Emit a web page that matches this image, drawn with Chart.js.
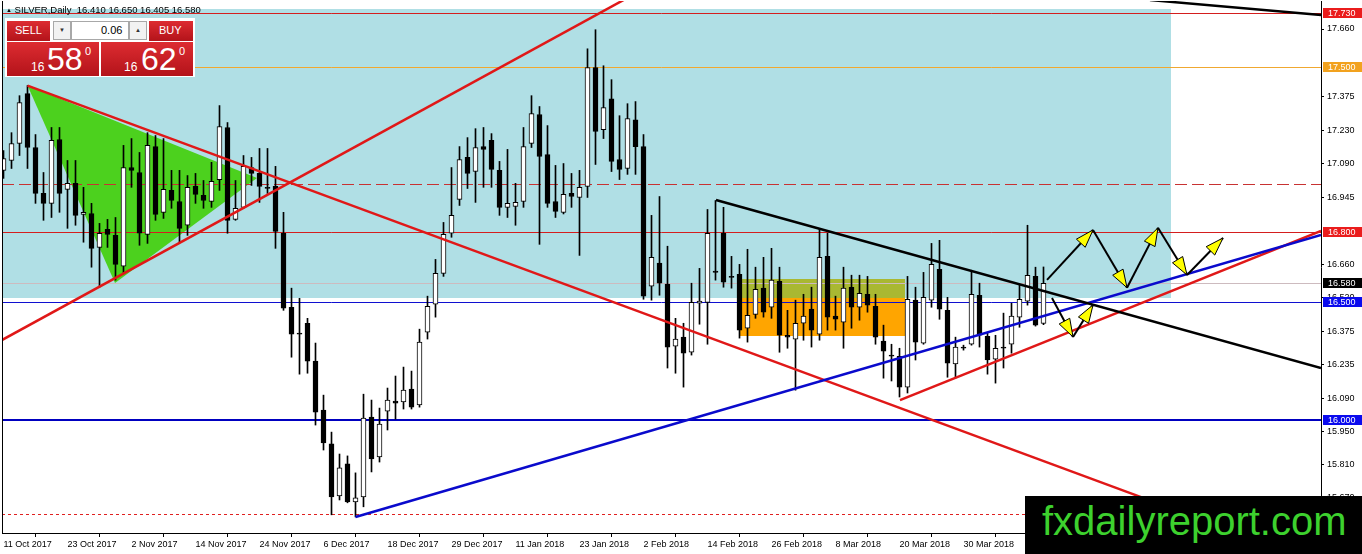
<!DOCTYPE html>
<html>
<head>
<meta charset="utf-8">
<script src="https://cdn.jsdelivr.net/npm/chart.js@4.4.1/dist/chart.umd.min.js"></script>
<style>
html,body{margin:0;padding:0;background:#fff;overflow:hidden;}
#wrap{position:relative;width:1362px;height:554px;overflow:hidden;font-family:'Liberation Sans',Arial,sans-serif;}
#c{position:absolute;left:0;top:0;}
.abs{position:absolute;white-space:nowrap;}
.red{background:linear-gradient(#dd2c31,#b3131a);}
.wt{color:#fff;}
.gbox{background:#f2f2f2;border:1px solid #a8a8a8;box-sizing:border-box;text-align:center;color:#333;font-size:6px;line-height:17px;}
</style>
</head>
<body>
<div id="wrap">
<canvas id="c" width="1362" height="554"></canvas>

<div class="abs" id="title" style="left:6px;top:5px;font-size:9.5px;line-height:9.5px;color:#000;"><span style="font-size:6px;vertical-align:1px;">▲</span> SILVER,Daily&nbsp; 16.410 16.650 16.405 16.580</div>

<div class="abs" style="left:5px;top:18px;width:190px;height:59px;background:#fff;"></div>
<div class="abs red" style="left:7px;top:21px;width:43px;height:20px;"></div>
<div class="abs wt" style="left:15px;top:25px;font-size:11px;line-height:11px;">SELL</div>
<div class="abs gbox" style="left:53px;top:21px;width:18px;height:19px;">▼</div>
<div class="abs" style="left:71px;top:21px;width:58px;height:19px;background:#fff;border:1px solid #a8a8a8;box-sizing:border-box;"></div>
<div class="abs" style="left:101px;top:25px;font-size:11px;line-height:11px;color:#000;">0.06</div>
<div class="abs gbox" style="left:129px;top:21px;width:18px;height:19px;">▲</div>
<div class="abs red" style="left:149px;top:21px;width:44px;height:20px;"></div>
<div class="abs wt" style="left:159px;top:25px;font-size:11px;line-height:11px;">BUY</div>

<div class="abs red" style="left:7px;top:42px;width:92px;height:34px;"></div>
<div class="abs red" style="left:101px;top:42px;width:92px;height:34px;"></div>
<div class="abs wt" style="left:31px;top:61px;font-size:12px;line-height:12px;">16</div>
<div class="abs wt" style="left:47px;top:43px;font-size:32px;line-height:32px;">58</div>
<div class="abs wt" style="left:85px;top:46px;font-size:11px;line-height:11px;">0</div>
<div class="abs wt" style="left:124px;top:61px;font-size:12px;line-height:12px;">16</div>
<div class="abs wt" style="left:141px;top:43px;font-size:32px;line-height:32px;">62</div>
<div class="abs wt" style="left:179px;top:46px;font-size:11px;line-height:11px;">0</div>

<div class="abs" style="left:1025px;top:496px;width:337px;height:58px;background:#000;"></div>
<div class="abs" style="left:1042px;top:501px;font-size:40px;line-height:40px;color:#3dd12e;">fxdailyreport.com</div>
</div>

<script>
// ---------- DATA ----------
const tickLabels = ["11 Oct 2017","23 Oct 2017","2 Nov 2017","14 Nov 2017","24 Nov 2017","6 Dec 2017",
  "18 Dec 2017","29 Dec 2017","11 Jan 2018","23 Jan 2018","2 Feb 2018","14 Feb 2018","26 Feb 2018",
  "8 Mar 2018","20 Mar 2018","30 Mar 2018"];
const barsPerLabel = 8;

const opens = [17.060,17.102,17.174,17.386,17.157,16.962,16.920,17.191,16.979,17.005,
16.873,16.877,16.733,16.810,16.784,16.653,17.072,17.051,16.788,17.161,
16.882,16.975,16.928,16.827,16.992,16.954,16.928,17.021,17.242,16.852,
16.903,17.072,17.047,16.988,16.992,16.793,16.479,16.369,16.411,16.250,
16.043,15.899,15.678,15.814,15.653,15.674,16.013,15.844,16.038,16.081,
16.077,16.132,16.064,16.373,16.492,16.623,16.793,16.937,17.115,17.055,
17.161,17.187,17.060,16.903,16.907,16.928,17.174,17.297,17.127,16.928,
16.882,16.962,16.945,16.992,17.496,17.233,17.364,17.106,17.068,17.275,
17.161,16.568,16.666,16.577,16.314,16.352,16.288,16.496,16.500,16.632,
16.793,16.610,16.619,16.390,16.449,16.560,16.479,16.589,16.360,16.344,
16.411,16.471,16.365,16.695,16.441,16.416,16.564,16.479,16.534,16.483,
16.335,16.276,16.271,16.140,16.509,16.327,16.509,16.640,16.466,16.238,
16.310,16.322,16.530,16.356,16.259,16.310,16.322,16.437,16.505,16.610,
16.410];
const highs = [17.144,17.220,17.377,17.420,17.212,17.051,17.242,17.242,17.102,17.102,
16.988,16.920,16.835,16.852,16.860,17.166,17.195,17.136,17.220,17.208,
17.195,17.060,17.060,17.038,17.047,17.017,17.094,17.335,17.263,17.017,
17.123,17.115,17.153,17.153,17.077,16.882,16.560,16.517,16.432,16.327,
16.106,15.949,15.856,15.848,15.776,16.110,16.085,16.051,16.136,16.187,
16.225,16.208,16.386,16.526,16.682,16.839,17.072,17.161,17.199,17.237,
17.242,17.216,17.098,17.149,17.005,17.242,17.377,17.331,17.250,17.081,
17.089,17.047,17.060,17.576,17.657,17.504,17.445,17.292,17.343,17.352,
17.212,16.869,16.949,16.738,16.432,16.411,16.581,16.644,16.894,16.932,
16.903,16.695,16.661,16.725,16.649,16.691,16.729,16.649,16.466,16.509,
16.534,16.564,16.814,16.793,16.526,16.649,16.615,16.615,16.610,16.534,
16.403,16.322,16.305,16.610,16.564,16.627,16.750,16.763,16.521,16.352,
16.318,16.636,16.581,16.373,16.360,16.454,16.496,16.572,16.827,16.649,
16.650];
const lows = [17.026,17.068,17.123,17.068,16.920,16.848,16.860,16.882,16.814,16.827,
16.755,16.649,16.564,16.733,16.594,16.623,16.988,16.742,16.750,16.848,
16.856,16.899,16.755,16.784,16.920,16.899,16.903,16.975,16.793,16.848,
16.899,16.996,16.924,16.962,16.729,16.466,16.267,16.195,16.199,15.979,
15.873,15.598,15.661,15.649,15.589,15.632,15.780,15.822,15.958,16.004,
16.047,16.047,16.055,16.344,16.437,16.610,16.776,16.911,16.983,16.924,
16.988,16.988,16.869,16.860,16.827,16.903,17.157,16.746,16.903,16.860,
16.875,16.903,16.699,16.945,17.085,17.195,17.055,17.021,17.043,17.043,
16.513,16.509,16.530,16.221,16.199,16.140,16.276,16.407,16.322,16.594,
16.564,16.560,16.348,16.331,16.432,16.437,16.432,16.288,16.305,16.127,
16.339,16.310,16.339,16.382,16.382,16.305,16.390,16.424,16.458,16.322,
16.178,16.166,16.098,16.115,16.255,16.322,16.479,16.428,16.182,16.178,
16.297,16.318,16.310,16.195,16.157,16.221,16.284,16.394,16.488,16.399,
16.405];
const closes = [17.110,17.174,17.348,17.157,16.962,16.920,17.187,16.962,17.005,16.869,
16.882,16.729,16.793,16.788,16.661,17.072,17.060,16.793,17.166,16.873,
16.979,16.932,16.814,16.988,16.958,16.932,17.013,17.246,16.848,16.899,
17.077,17.047,16.992,16.983,16.801,16.475,16.365,16.365,16.250,16.034,
15.903,15.674,15.797,15.653,15.670,16.009,15.835,15.983,16.085,16.072,
16.127,16.055,16.331,16.483,16.623,16.788,16.869,17.106,17.047,17.157,
17.149,17.064,16.903,16.920,16.924,17.161,17.301,17.119,16.920,16.886,
16.958,16.949,16.988,17.496,17.225,17.326,17.098,17.064,17.280,17.161,
16.526,16.691,16.581,16.310,16.344,16.284,16.500,16.505,16.793,16.627,
16.585,16.606,16.382,16.445,16.555,16.458,16.594,16.360,16.352,16.411,
16.441,16.382,16.691,16.437,16.428,16.560,16.479,16.538,16.488,16.352,
16.293,16.271,16.140,16.513,16.331,16.521,16.661,16.471,16.242,16.310,
16.305,16.534,16.360,16.255,16.305,16.305,16.441,16.513,16.615,16.403,
16.580];

const priceTicks = [17.660,17.375,17.230,17.090,16.945,16.660,16.520,16.375,16.235,16.090,15.950,15.810,15.670];

// horizontal levels (price) and their styles kept apart
const levelPrices = [17.730, 17.500, 17.000, 16.800, 16.580, 16.500, 16.000, 15.600];
const levelStyles = [
  {c:'#d41e1e', w:1, d:[]}, {c:'#f0a830', w:1, d:[]}, {c:'#c83232', w:1, d:[12,5]},
  {c:'#d41e1e', w:1, d:[]}, {c:'#cdbbbf', w:1, d:[]}, {c:'#1010d0', w:1, d:[]},
  {c:'#0000c0', w:2, d:[]}, {c:'#e02020', w:1, d:[3,3]}];

// price-axis tags
const tagPrices = [17.730, 17.500, 16.800, 16.580, 16.500, 16.000];
const tagColors = ['#ea1c1c', '#f2a21e', '#ea1c1c', '#000000', '#0a0aee', '#0a0aee'];

// drawn objects in (bar index, price)
const zoneBox   = [[-1, 17.747], [145.9, 16.518]];
const orangeBox = [[91.94, 16.518], [112.69, 16.357]];
const oliveBox  = [[91.94, 16.599], [112.69, 16.518]];
const greenTriangle = [[3, 17.420], [13.94, 16.582], [31.69, 17.028]];
const trendLines = [
  [[-1.69, 16.312], [78.31, 17.798]],
  [[3, 17.420], [149.56, 15.581]],
  [[112.06, 16.085], [164.69, 16.803]],
  [[44, 15.589], [164.69, 16.786]],
  [[89.06, 16.934], [164.69, 16.221]],
  [[143.31, 17.783], [164.69, 17.719]]
];
const trendColors = ['#e01818', '#e01818', '#e01818', '#0a0acc', '#000000', '#000000'];
const arrowPaths = [
  [[130.44, 16.595], [136.19, 16.807], [140.44, 16.562], [144.31, 16.816], [147.94, 16.616], [152.44, 16.773]],
  [[131.06, 16.518], [133.69, 16.353], [136.19, 16.489]]
];

// ---------- CHART ----------
const idx = opens.map((_, i) => i);
const wickData = idx.map(i => ({x: i, y: [lows[i], highs[i]]}));
const bodyData = idx.map(i => ({x: i, y: [opens[i], closes[i]]}));
const bodyColors = idx.map(i => closes[i] > opens[i] ? '#ffffff' : '#000000');

function P(x, y, pt) { return [x.getPixelForValue(pt[0]), y.getPixelForValue(pt[1])]; }
function fillBox(ctx, x, y, box, col) {
  const [x0, y0] = P(x, y, box[0]); const [x1, y1] = P(x, y, box[1]);
  ctx.fillStyle = col;
  ctx.fillRect(Math.round(x0), Math.round(y0), Math.round(x1) - Math.round(x0), Math.round(y1) - Math.round(y0));
}

const annotations = {
  id: 'annotations',
  beforeDatasetsDraw(chart) {
    const {ctx, chartArea: a, scales: {x, y}} = chart;
    ctx.save();
    ctx.beginPath(); ctx.rect(a.left, a.top, a.right - a.left, a.bottom - a.top); ctx.clip();
    fillBox(ctx, x, y, zoneBox, '#b0dfe5');
    fillBox(ctx, x, y, orangeBox, '#ffa500');
    fillBox(ctx, x, y, oliveBox, '#a9b832');
    ctx.beginPath();
    greenTriangle.forEach((pt, k) => { const [X, Y] = P(x, y, pt); k ? ctx.lineTo(X, Y) : ctx.moveTo(X, Y); });
    ctx.closePath(); ctx.fillStyle = '#4cd11e'; ctx.fill();
    levelPrices.forEach((p, k) => {
      const s = levelStyles[k];
      let Y = Math.round(y.getPixelForValue(p)); if (s.w % 2) Y += 0.5;
      ctx.beginPath(); ctx.setLineDash(s.d); ctx.lineWidth = s.w; ctx.strokeStyle = s.c;
      ctx.moveTo(a.left, Y); ctx.lineTo(a.right, Y); ctx.stroke();
    });
    ctx.setLineDash([]);
    ctx.restore();
  },
  afterDatasetsDraw(chart) {
    const {ctx, chartArea: a, scales: {x, y}} = chart;
    ctx.save();
    ctx.beginPath(); ctx.rect(a.left, a.top, a.right - a.left, a.bottom - a.top); ctx.clip();
    ctx.lineWidth = 2.5; ctx.lineCap = 'butt';
    trendLines.forEach((ln, k) => {
      const [x0, y0] = P(x, y, ln[0]); const [x1, y1] = P(x, y, ln[1]);
      ctx.beginPath(); ctx.strokeStyle = trendColors[k]; ctx.moveTo(x0, y0); ctx.lineTo(x1, y1); ctx.stroke();
    });
    arrowPaths.forEach(path => {
      for (let k = 1; k < path.length; k++) {
        const [x0, y0] = P(x, y, path[k - 1]); const [x1, y1] = P(x, y, path[k]);
        ctx.beginPath(); ctx.strokeStyle = '#000'; ctx.lineWidth = 2;
        ctx.moveTo(x0, y0); ctx.lineTo(x1, y1); ctx.stroke();
        const L = Math.hypot(x1 - x0, y1 - y0), ux = (x1 - x0) / L, uy = (y1 - y0) / L;
        const bx = x1 - ux * 18, by = y1 - uy * 18;
        ctx.beginPath();
        ctx.moveTo(x1, y1);
        ctx.lineTo(bx - uy * 6, by + ux * 6);
        ctx.lineTo(bx + uy * 6, by - ux * 6);
        ctx.closePath();
        ctx.fillStyle = '#ffff00'; ctx.fill();
        ctx.lineWidth = 1; ctx.strokeStyle = '#000'; ctx.stroke();
      }
    });
    ctx.restore();
  },
  afterDraw(chart) {
    const {ctx, chartArea: a, scales: {y}} = chart;
    ctx.save();
    ctx.fillStyle = '#000';
    ctx.fillRect(Math.round(a.left), Math.round(a.top), 1, Math.round(a.bottom - a.top));
    ctx.font = '9px "Liberation Sans", Arial, sans-serif';
    ctx.textBaseline = 'middle'; ctx.textAlign = 'left';
    tagPrices.forEach((p, k) => {
      const Y = Math.round(y.getPixelForValue(p));
      ctx.fillStyle = tagColors[k];
      ctx.fillRect(a.right + 2, Y - 5, 1362 - a.right - 2, 10);
      ctx.fillStyle = '#fff';
      ctx.fillText(p.toFixed(3), a.right + 7, Y + 0.5);
    });
    ctx.restore();
  }
};

Chart.defaults.font.family = '"Liberation Sans", Arial, sans-serif';
new Chart(document.getElementById('c'), {
  type: 'bar',
  data: {
    datasets: [
      {data: bodyData, backgroundColor: bodyColors, borderColor: '#000', borderWidth: 1,
       borderSkipped: false, barThickness: 5, grouped: false, order: 0},
      {data: wickData, backgroundColor: '#000', borderWidth: 0, barThickness: 1, grouped: false, order: 1}
    ]
  },
  options: {
    responsive: false, animation: false, devicePixelRatio: 1,
    layout: {padding: {left: 2, top: 1, right: 0, bottom: 0}},
    plugins: {legend: {display: false}, tooltip: {enabled: false}},
    scales: {
      x: {
        type: 'linear', offset: false, min: -0.1875, max: 164.6875,
        afterBuildTicks: s => { s.ticks = tickLabels.map((_, k) => ({value: k * barsPerLabel})); },
        afterFit: s => { s.height = 21; s.paddingLeft = 0; s.paddingRight = 0; },
        ticks: {autoSkip: false, maxRotation: 0, align: 'start', padding: 2, color: '#000',
                font: {size: 9}, callback: v => tickLabels[Math.round(v / barsPerLabel)] || ''},
        grid: {display: true, drawOnChartArea: false, drawTicks: true, tickLength: 4, color: '#000'},
        border: {display: true, color: '#000'}
      },
      y: {
        type: 'linear', position: 'right', min: 15.5208, max: 17.77886,
        afterBuildTicks: s => { s.ticks = priceTicks.map(v => ({value: v})); },
        afterFit: s => { s.width = 41; s.paddingTop = 0; s.paddingBottom = 0; },
        ticks: {padding: 3, color: '#000', font: {size: 9}, callback: v => Number(v).toFixed(3)},
        grid: {display: true, drawOnChartArea: false, drawTicks: true, tickLength: 3, color: '#000'},
        border: {display: true, color: '#000'}
      }
    }
  },
  plugins: [annotations]
});
</script>
</body>
</html>
